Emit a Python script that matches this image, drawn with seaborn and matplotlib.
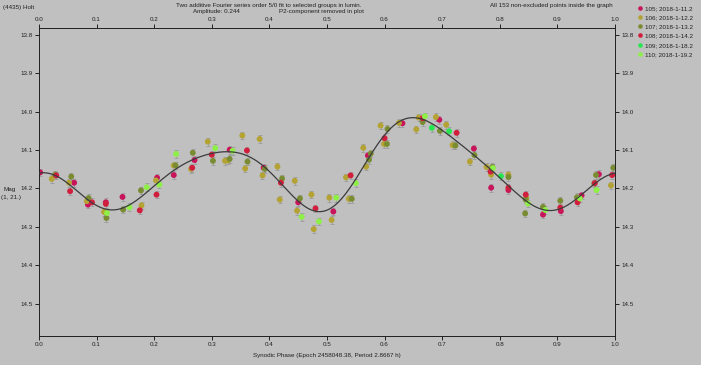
import numpy as np
import pandas as pd
import matplotlib
matplotlib.use("Agg")
import matplotlib.pyplot as plt
import seaborn as sns

# ---------------- data (phase, reduced magnitude) ----------------
groups = ["105", "106", "107", "108", "109", "110"]
legend_labels = ["105; 2018-1-11.2", "106; 2018-1-12.2", "107; 2018-1-13.2",
                 "108; 2018-1-14.2", "109; 2018-1-18.2", "110; 2018-1-19.2"]
colors = ["#c8145a", "#b4a232", "#7a8c32", "#d01e3c", "#28e650", "#8ef046"]

phase_105 = [0.002, 0.061, 0.085, 0.116, 0.145, 0.205, 0.234, 0.270, 0.331, 0.390,
             0.450, 0.511, 0.571, 0.631, 0.695, 0.755, 0.785, 0.815, 0.875, 0.906,
             0.942, 0.972]
mag_105 = [14.158, 14.185, 14.242, 14.236, 14.222, 14.172, 14.165, 14.126, 14.099, 14.146,
           14.236, 14.260, 14.114, 14.030, 14.021, 14.096, 14.198, 14.204, 14.268, 14.259,
           14.218, 14.163]

phase_106 = [0.022, 0.052, 0.083, 0.113, 0.178, 0.203, 0.234, 0.264, 0.293, 0.323,
             0.328, 0.353, 0.358, 0.383, 0.388, 0.414, 0.418, 0.444, 0.448, 0.473,
             0.477, 0.504, 0.508, 0.533, 0.538, 0.563, 0.568, 0.593, 0.599, 0.625,
             0.655, 0.659, 0.689, 0.707, 0.718, 0.748, 0.777, 0.785, 0.815, 0.846,
             0.993]
mag_106 = [14.175, 14.185, 14.233, 14.261, 14.244, 14.179, 14.140, 14.149, 14.078, 14.128,
           14.127, 14.062, 14.148, 14.071, 14.166, 14.143, 14.229, 14.180, 14.258, 14.216,
           14.306, 14.224, 14.282, 14.171, 14.227, 14.094, 14.143, 14.036, 14.084, 14.029,
           14.046, 14.015, 14.014, 14.034, 14.087, 14.130, 14.144, 14.164, 14.164, 14.224,
           14.192]

phase_107 = [0.028, 0.056, 0.086, 0.117, 0.146, 0.177, 0.237, 0.267, 0.302, 0.331,
             0.362, 0.392, 0.422, 0.453, 0.543, 0.573, 0.576, 0.605, 0.604, 0.666,
             0.696, 0.723, 0.756, 0.787, 0.815, 0.845, 0.844, 0.875, 0.905, 0.934,
             0.964, 0.967, 0.997]
mag_107 = [14.164, 14.169, 14.225, 14.277, 14.255, 14.205, 14.140, 14.107, 14.128, 14.123,
           14.130, 14.149, 14.174, 14.226, 14.227, 14.125, 14.109, 14.045, 14.084, 14.027,
           14.050, 14.088, 14.113, 14.144, 14.170, 14.229, 14.265, 14.248, 14.232, 14.223,
           14.187, 14.165, 14.146]

phase_108 = [0.030, 0.054, 0.092, 0.116, 0.175, 0.204, 0.266, 0.300, 0.361, 0.420,
             0.480, 0.541, 0.600, 0.666, 0.725, 0.784, 0.815, 0.845, 0.905, 0.935,
             0.965, 0.995]
mag_108 = [14.166, 14.207, 14.236, 14.240, 14.257, 14.216, 14.146, 14.112, 14.101, 14.185,
           14.252, 14.166, 14.069, 14.017, 14.055, 14.156, 14.198, 14.216, 14.250, 14.236,
           14.186, 14.165]

phase_109 = [0.682, 0.712, 0.802]
mag_109 = [14.042, 14.051, 14.168]

phase_110 = [0.118, 0.157, 0.187, 0.209, 0.238, 0.306, 0.336, 0.456, 0.486, 0.516,
             0.550, 0.670, 0.788, 0.849, 0.879, 0.939, 0.968]
mag_110 = [14.264, 14.249, 14.197, 14.190, 14.110, 14.095, 14.102, 14.274, 14.286, 14.224,
           14.186, 14.012, 14.147, 14.239, 14.256, 14.226, 14.204]

MAG_ERR = 0.010
FOURIER_ORDER = 5

x_ticks = [0.0, 0.1, 0.2, 0.3, 0.4, 0.5, 0.6, 0.7, 0.8, 0.9, 1.0]
y_ticks = [13.8, 13.9, 14.0, 14.1, 14.2, 14.3, 14.4, 14.5]

# ---------------- build table ----------------
phases = [phase_105, phase_106, phase_107, phase_108, phase_109, phase_110]
mags = [mag_105, mag_106, mag_107, mag_108, mag_109, mag_110]
frames = []
for g, p, m in zip(groups, phases, mags):
    frames.append(pd.DataFrame({"phase": p, "mag": m, "group": g}))
df = pd.concat(frames, ignore_index=True)

# Fourier fit of order 5 to the data
def design(ph, order):
    cols = [np.ones_like(ph)]
    for k in range(1, order + 1):
        cols.append(np.cos(2 * np.pi * k * ph))
        cols.append(np.sin(2 * np.pi * k * ph))
    return np.column_stack(cols)

ph_arr = df["phase"].to_numpy()
coef, *_ = np.linalg.lstsq(design(ph_arr, FOURIER_ORDER), df["mag"].to_numpy(), rcond=None)
grid = np.linspace(0, 1, 500)
fit = design(grid, FOURIER_ORDER) @ coef

# ---------------- figure ----------------
sns.set_theme(style="white")
plt.rcParams["font.family"] = ["Liberation Sans", "DejaVu Sans"]
BG = "#c0c0c0"
FS = 4.5
W, H = 701, 365
fig = plt.figure(figsize=(W / 100, H / 100), dpi=100, facecolor=BG)

left, right, top, bottom = 39, 615, 28, 336
ax = fig.add_axes([left / W, 1 - bottom / H, (right - left) / W, (bottom - top) / H])
ax.set_facecolor(BG)

palette = dict(zip(groups, colors))

for g, p, m in zip(groups, phases, mags):
    ax.errorbar(p, m, yerr=MAG_ERR, fmt="none", ecolor="#9c9c9c",
                elinewidth=0.6, capsize=1.4, capthick=0.6, zorder=1)

sns.scatterplot(data=df, x="phase", y="mag", hue="group", palette=palette,
                s=18, linewidth=0, legend=False, ax=ax, zorder=2)
sns.lineplot(x=grid, y=fit, color="#3c3c3c", linewidth=0.9, ax=ax, zorder=3)

ax.set_xlim(0, 1)
ax.set_ylim(14.5844, 13.7818)
ax.set_xticks(x_ticks)
ax.set_xticklabels([f"{v:.1f}" for v in x_ticks])
ax.set_yticks(y_ticks)
ax.set_yticklabels([f"{v:.1f}" for v in y_ticks])
ax.set_xlabel("")
ax.set_ylabel("")
ax.tick_params(axis="both", which="both", direction="out", length=2.6, width=0.7,
               color="#202020", labelsize=FS, labelcolor="#202020", pad=1.8,
               top=True, labeltop=True, right=True, labelright=True,
               bottom=True, left=True)
for sp in ax.spines.values():
    sp.set_visible(True)
    sp.set_color("#202020")
    sp.set_linewidth(0.7)

def ftext(x, y, s, **kw):
    fig.text(x / W, 1 - y / H, s, fontsize=FS, color="#202020", va="center", **kw)

ftext(3, 7, "(4435) Holt", ha="left")
ftext(268.5, 5.5, "Two additive Fourier series order 5/0 fit to selected groups in lumin.", ha="center")
ftext(216, 12, "Amplitude: 0.244", ha="center")
ftext(321, 12, "P2-component removed in plot", ha="center")
ftext(613, 6, "All 153 non-excluded points inside the graph", ha="right")
ftext(3, 189, "Mag", ha="left")
ftext(1, 197, "(1, 21.)", ha="left")
ftext(327, 355, "Synodic Phase (Epoch 2458048.38, Period 2.8667 h)", ha="center")

# legend
handles = [plt.Line2D([], [], marker="o", linestyle="none", markersize=3.3,
                      markerfacecolor=c, markeredgewidth=0) for c in colors]
fig.legend(handles, legend_labels, loc="upper left",
           bbox_to_anchor=(638 / W, 1 - 5.5 / H), frameon=False, fontsize=FS,
           labelspacing=0.62, handlelength=0.6, handletextpad=0.5,
           borderpad=0.0, borderaxespad=0.0, labelcolor="#202020")

fig.savefig("out.png", dpi=100, facecolor=BG)
